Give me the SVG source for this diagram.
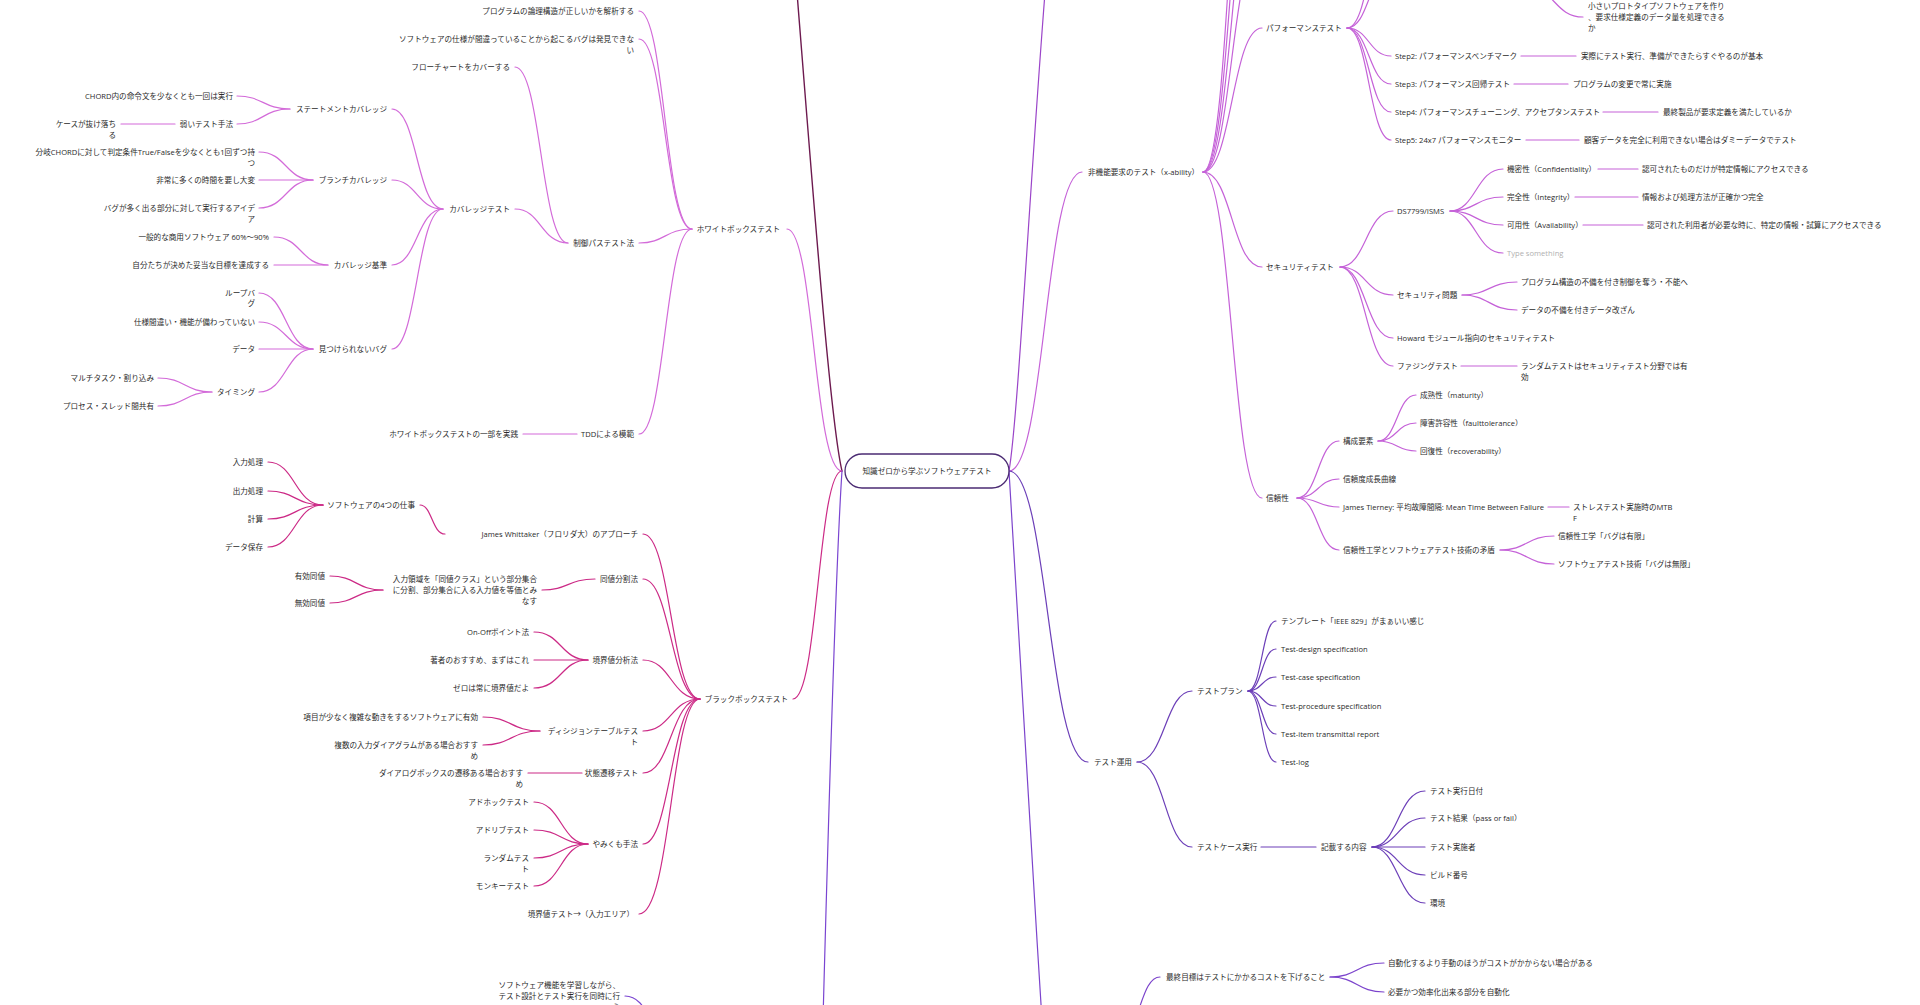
<svg xmlns="http://www.w3.org/2000/svg" width="1920" height="1005" viewBox="0 0 1920 1005">
<style>
text{font-family:"Open Sans","Noto Sans CJK JP","Noto Sans",sans-serif;font-size:7.6px;fill:#2a2a2a;dominant-baseline:central}
.e{text-anchor:end}
.m{text-anchor:middle}
.g{fill:#b0b0b0}
path{fill:none;stroke-width:1.2;stroke-linecap:round}
.wb{stroke:#d36bd9}.bb{stroke:#cc2a86}.dk{stroke:#6d1a4f;stroke-width:1.4}.vl{stroke:#7a45d1}
.nf{stroke:#c562d8}.rt{stroke:#9b45c9}.op{stroke:#6c3fb8}.vr{stroke:#7c44cc}
</style>
<rect width="1920" height="1005" fill="#fff"/>
<g id="connectors">
<!-- root left -->
<path class="dk" d="M842,471 C830,420 812,180 796,-20"/>
<path class="wb" d="M842,471 C814,471 814,229 787,229"/>
<path class="bb" d="M842,471 C818,471 818,699 793,699"/>
<path class="vl" d="M842,471 C836,560 830,760 823,1020"/>
<path class="vl" d="M625,996 C650,996 650,1040 676,1040"/>
<!-- white box -->
<path class="wb" d="M692,229 C665,229 665,11 639,11"/>
<path class="wb" d="M692,229 C665,229 665,39 639,39"/>
<path class="wb" d="M692,229 C665,229 665,243 639,243"/>
<path class="wb" d="M692,229 C665,229 665,434 639,434"/>
<path class="wb" d="M568,243 C541,243 541,67 515,67"/>
<path class="wb" d="M568,243 C541,243 541,209 515,209"/>
<path class="wb" d="M443,209 C417,209 417,109 392,109"/>
<path class="wb" d="M443,209 C417,209 417,180 392,180"/>
<path class="wb" d="M443,209 C417,209 417,265 392,265"/>
<path class="wb" d="M443,209 C417,209 417,349 392,349"/>
<path class="wb" d="M290,109 C263,109 263,96 237,96"/>
<path class="wb" d="M290,109 C263,109 263,124 237,124"/>
<path class="wb" d="M175,124 L121,124"/>
<path class="wb" d="M313,180 C286,180 286,152 259,152"/>
<path class="wb" d="M313,180 L259,180"/>
<path class="wb" d="M313,180 C286,180 286,208 259,208"/>
<path class="wb" d="M328,265 C301,265 301,237 274,237"/>
<path class="wb" d="M328,265 L274,265"/>
<path class="wb" d="M313,349 C286,349 286,293 259,293"/>
<path class="wb" d="M313,349 C286,349 286,322 259,322"/>
<path class="wb" d="M313,349 L259,349"/>
<path class="wb" d="M313,349 C286,349 286,392 259,392"/>
<path class="wb" d="M212,392 C185,392 185,378 158,378"/>
<path class="wb" d="M212,392 C185,392 185,406 158,406"/>
<path class="wb" d="M577,434 L523,434"/>
<!-- black box -->
<path class="bb" d="M700,699 C671,699 671,534 643,534"/>
<path class="bb" d="M700,699 C671,699 671,579 643,579"/>
<path class="bb" d="M700,699 C671,699 671,660 643,660"/>
<path class="bb" d="M700,699 C671,699 671,731 643,731"/>
<path class="bb" d="M700,699 C671,699 671,773 643,773"/>
<path class="bb" d="M700,699 C671,699 671,844 643,844"/>
<path class="bb" d="M700,699 C671,699 671,914 639,914"/>
<path class="bb" d="M445,534 C432,534 432,505 420,505"/>
<path class="bb" d="M323,505 C295,505 295,462 268,462"/>
<path class="bb" d="M323,505 C295,505 295,491 268,491"/>
<path class="bb" d="M323,505 C295,505 295,519 268,519"/>
<path class="bb" d="M323,505 C295,505 295,547 268,547"/>
<path class="bb" d="M595,579 C568,579 568,590 542,590"/>
<path class="bb" d="M383,590 C356,590 356,576 330,576"/>
<path class="bb" d="M383,590 C356,590 356,603 330,603"/>
<path class="bb" d="M588,660 C561,660 561,632 534,632"/>
<path class="bb" d="M588,660 L534,660"/>
<path class="bb" d="M588,660 C561,660 561,688 534,688"/>
<path class="bb" d="M540,731 C511,731 511,717 483,717"/>
<path class="bb" d="M540,731 C511,731 511,745 483,745"/>
<path class="bb" d="M582,773 L528,773"/>
<path class="bb" d="M588,844 C561,844 561,802 534,802"/>
<path class="bb" d="M588,844 C561,844 561,830 534,830"/>
<path class="bb" d="M588,844 C561,844 561,858 534,858"/>
<path class="bb" d="M588,844 C561,844 561,886 534,886"/>
<!-- root right -->
<path class="rt" d="M1009,471 C1018,420 1030,180 1046,-20"/>
<path class="nf" d="M1009,471 C1045,471 1045,172 1082,172"/>
<path class="op" d="M1009,471 C1048,471 1048,762 1088,762"/>
<path class="vr" d="M1009,471 C1015,560 1028,800 1042,1020"/>
<!-- non-functional -->
<path class="nf" d="M1203,172 C1232,172 1232,-60 1262,-60"/>
<path class="nf" d="M1203,172 C1232,172 1232,-140 1262,-140"/>
<path class="nf" d="M1203,172 C1232,172 1232,-230 1262,-230"/>
<path class="nf" d="M1203,172 C1232,172 1232,-330 1262,-330"/>
<path class="nf" d="M1203,172 C1232,172 1232,28 1262,28"/>
<path class="nf" d="M1203,172 C1232,172 1232,267 1262,267"/>
<path class="nf" d="M1203,172 C1232,172 1232,498 1262,498"/>
<path class="nf" d="M1347,28 C1369,28 1369,-30 1391,-30"/>
<path class="nf" d="M1347,28 C1369,28 1369,-75 1391,-75"/>
<path class="nf" d="M1347,28 C1369,28 1369,56 1391,56"/>
<path class="nf" d="M1347,28 C1369,28 1369,84 1391,84"/>
<path class="nf" d="M1347,28 C1369,28 1369,112 1391,112"/>
<path class="nf" d="M1347,28 C1369,28 1369,140 1391,140"/>
<path class="nf" d="M1525,-14 C1554,-14 1554,17 1583,17"/>
<path class="nf" d="M1521,56 L1576,56"/>
<path class="nf" d="M1514,84 L1568,84"/>
<path class="nf" d="M1603,112 L1658,112"/>
<path class="nf" d="M1526,140 L1579,140"/>
<path class="nf" d="M1340,267 C1366,267 1366,211 1393,211"/>
<path class="nf" d="M1340,267 C1366,267 1366,295 1393,295"/>
<path class="nf" d="M1340,267 C1366,267 1366,338 1393,338"/>
<path class="nf" d="M1340,267 C1366,267 1366,366 1393,366"/>
<path class="nf" d="M1450,211 C1476,211 1476,169 1503,169"/>
<path class="nf" d="M1450,211 C1476,211 1476,197 1503,197"/>
<path class="nf" d="M1450,211 C1476,211 1476,225 1503,225"/>
<path class="nf" d="M1450,211 C1476,211 1476,253 1503,253"/>
<path class="nf" d="M1598,169 L1638,169"/>
<path class="nf" d="M1575,197 L1638,197"/>
<path class="nf" d="M1583,225 L1643,225"/>
<path class="nf" d="M1462,295 C1489,295 1489,282 1517,282"/>
<path class="nf" d="M1462,295 C1489,295 1489,310 1517,310"/>
<path class="nf" d="M1461,366 L1517,366"/>
<path class="nf" d="M1297,498 C1318,498 1318,441 1339,441"/>
<path class="nf" d="M1297,498 C1318,498 1318,479 1339,479"/>
<path class="nf" d="M1297,498 C1318,498 1318,507 1339,507"/>
<path class="nf" d="M1297,498 C1318,498 1318,550 1339,550"/>
<path class="nf" d="M1378,441 C1397,441 1397,395 1416,395"/>
<path class="nf" d="M1378,441 C1397,441 1397,423 1416,423"/>
<path class="nf" d="M1378,441 C1397,441 1397,451 1416,451"/>
<path class="nf" d="M1548,507 L1569,507"/>
<path class="nf" d="M1500,550 C1527,550 1527,536 1554,536"/>
<path class="nf" d="M1500,550 C1527,550 1527,564 1554,564"/>
<!-- test operation -->
<path class="op" d="M1137,762 C1165,762 1165,691 1192,691"/>
<path class="op" d="M1137,762 C1165,762 1165,847 1192,847"/>
<path class="op" d="M1248,691 C1262,691 1262,621 1276,621"/>
<path class="op" d="M1248,691 C1262,691 1262,649 1276,649"/>
<path class="op" d="M1248,691 C1262,691 1262,677 1276,677"/>
<path class="op" d="M1248,691 C1262,691 1262,706 1276,706"/>
<path class="op" d="M1248,691 C1262,691 1262,734 1276,734"/>
<path class="op" d="M1248,691 C1262,691 1262,762 1276,762"/>
<path class="op" d="M1261,847 L1316,847"/>
<path class="op" d="M1372,847 C1398,847 1398,791 1425,791"/>
<path class="op" d="M1372,847 C1398,847 1398,818 1425,818"/>
<path class="op" d="M1372,847 L1425,847"/>
<path class="op" d="M1372,847 C1398,847 1398,875 1425,875"/>
<path class="op" d="M1372,847 C1398,847 1398,903 1425,903"/>
<!-- bottom right -->
<path class="vr" d="M1160,977 C1140,977 1140,1035 1120,1035"/>
<path class="vr" d="M1330,977 C1357,977 1357,963 1384,963"/>
<path class="vr" d="M1330,977 C1357,977 1357,992 1384,992"/>
</g>
<g id="root">
<rect x="845" y="454" width="164" height="34" rx="17" fill="#fff" stroke="#4b2b73" stroke-width="1.3"/>
<text class="m" x="927" y="471">知識ゼロから学ぶソフトウェアテスト</text>
</g>
<g id="whitebox">
<text class="e" x="780" y="229">ホワイトボックステスト</text>
<text id="wb-logic" class="e" x="634" y="11">プログラムの論理構造が正しいかを解析する</text>
<text id="wb-spec" class="e" x="634" y="39">ソフトウェアの仕様が間違っていることから起こるバグは発見できな<tspan x="634" y="50">い</tspan></text>
<text id="wb-ctrl" class="e" x="634" y="243">制御パステスト法</text>
<text id="wb-flow" class="e" x="510" y="67">フローチャートをカバーする</text>
<text id="wb-cov" class="e" x="510" y="209">カバレッジテスト</text>
<text id="cov-stmt" class="e" x="387" y="109">ステートメントカバレッジ</text>
<text class="e" x="233" y="96">CHORD内の命令文を少なくとも一回は実行</text>
<text class="e" x="233" y="124">弱いテスト手法</text>
<text class="e" x="116" y="124">ケースが抜け落ち<tspan x="116" y="135">る</tspan></text>
<text id="cov-branch" class="e" x="387" y="180">ブランチカバレッジ</text>
<text class="e" x="255" y="152">分岐CHORDに対して判定条件True/Falseを少なくとも1回ずつ持<tspan x="255" y="163">つ</tspan></text>
<text class="e" x="255" y="180">非常に多くの時間を要し大変</text>
<text class="e" x="255" y="208">バグが多く出る部分に対して実行するアイデ<tspan x="255" y="219">ア</tspan></text>
<text id="cov-crit" class="e" x="387" y="265">カバレッジ基準</text>
<text class="e" x="269" y="237">一般的な商用ソフトウェア 60%〜90%</text>
<text class="e" x="269" y="265">自分たちが決めた妥当な目標を達成する</text>
<text id="cov-bugs" class="e" x="387" y="349">見つけられないバグ</text>
<text class="e" x="255" y="293">ループバ<tspan x="255" y="303">グ</tspan></text>
<text class="e" x="255" y="322">仕様間違い・機能が備わっていない</text>
<text class="e" x="255" y="349">データ</text>
<text class="e" x="255" y="392">タイミング</text>
<text class="e" x="154" y="378">マルチタスク・割り込み</text>
<text class="e" x="154" y="406">プロセス・スレッド間共有</text>
<text id="wb-tdd" class="e" x="634" y="434">TDDによる模範</text>
<text class="e" x="518" y="434">ホワイトボックステストの一部を実践</text>
</g>
<g id="blackbox">
<text class="e" x="788" y="699">ブラックボックステスト</text>
<text id="bb-jw" class="e" x="638" y="534">James Whittaker（フロリダ大）のアプローチ</text>
<text class="e" x="415" y="505">ソフトウェアの4つの仕事</text>
<text class="e" x="263" y="462">入力処理</text>
<text class="e" x="263" y="491">出力処理</text>
<text class="e" x="263" y="519">計算</text>
<text class="e" x="263" y="547">データ保存</text>
<text id="bb-eq" class="e" x="638" y="579">同値分割法</text>
<text class="e" x="537" y="579">入力領域を「同値クラス」という部分集合<tspan x="537" y="590">に分割、部分集合に入る入力値を等価とみ</tspan><tspan x="537" y="601">なす</tspan></text>
<text class="e" x="325" y="576">有効同値</text>
<text class="e" x="325" y="603">無効同値</text>
<text id="bb-bva" class="e" x="638" y="660">境界値分析法</text>
<text class="e" x="529" y="632">On-Offポイント法</text>
<text class="e" x="529" y="660">著者のおすすめ、まずはこれ</text>
<text class="e" x="529" y="688">ゼロは常に境界値だよ</text>
<text id="bb-dt" class="e" x="638" y="731">ディシジョンテーブルテス<tspan x="638" y="742">ト</tspan></text>
<text class="e" x="478" y="717">項目が少なく複雑な動きをするソフトウェアに有効</text>
<text class="e" x="478" y="745">複数の入力ダイアグラムがある場合おすす<tspan x="478" y="756">め</tspan></text>
<text id="bb-st" class="e" x="638" y="773">状態遷移テスト</text>
<text class="e" x="523" y="773">ダイアログボックスの遷移ある場合おすす<tspan x="523" y="784">め</tspan></text>
<text id="bb-ad" class="e" x="638" y="844">やみくも手法</text>
<text class="e" x="529" y="802">アドホックテスト</text>
<text class="e" x="529" y="830">アドリブテスト</text>
<text class="e" x="529" y="858">ランダムテス<tspan x="529" y="869">ト</tspan></text>
<text class="e" x="529" y="886">モンキーテスト</text>
<text id="bb-bvt" class="e" x="634" y="914">境界値テスト→（入力エリア）</text>
</g>
<g id="explore">
<text class="e" x="620" y="985">ソフトウェア機能を学習しながら、<tspan x="620" y="996">テスト設計とテスト実行を同時に行</tspan><tspan x="620" y="1007">う</tspan></text>
</g>
<g id="nonfunc">
<text x="1088" y="172">非機能要求のテスト（x-ability）</text>
<text id="perf" x="1266" y="28">パフォーマンステスト</text>
<text x="1588" y="6">小さいプロトタイプソフトウェアを作り<tspan x="1588" y="17">、要求仕様定義のデータ量を処理できる</tspan><tspan x="1588" y="28">か</tspan></text>
<text x="1395" y="56">Step2: パフォーマンスベンチマーク</text>
<text x="1581" y="56">実際にテスト実行、準備ができたらすぐやるのが基本</text>
<text x="1395" y="84">Step3: パフォーマンス回帰テスト</text>
<text x="1573" y="84">プログラムの変更で常に実施</text>
<text x="1395" y="112">Step4: パフォーマンスチューニング、アクセプタンステスト</text>
<text x="1663" y="112">最終製品が要求定義を満たしているか</text>
<text x="1395" y="140">Step5: 24x7 パフォーマンスモニター</text>
<text x="1584" y="140">顧客データを完全に利用できない場合はダミーデータでテスト</text>
<text id="sec" x="1266" y="267">セキュリティテスト</text>
<text x="1397" y="211">DS7799/ISMS</text>
<text x="1507" y="169">機密性（Confidentiality）</text>
<text x="1642" y="169">認可されたものだけが特定情報にアクセスできる</text>
<text x="1507" y="197">完全性（Integrity）</text>
<text x="1642" y="197">情報および処理方法が正確かつ完全</text>
<text x="1507" y="225">可用性（Availability）</text>
<text x="1647" y="225">認可された利用者が必要な時に、特定の情報・試算にアクセスできる</text>
<text class="g" x="1507" y="253">Type something</text>
<text x="1397" y="295">セキュリティ問題</text>
<text x="1521" y="282">プログラム構造の不備を付き制御を奪う・不能へ</text>
<text x="1521" y="310">データの不備を付きデータ改ざん</text>
<text x="1397" y="338">Howard モジュール指向のセキュリティテスト</text>
<text x="1397" y="366">ファジングテスト</text>
<text x="1521" y="366">ランダムテストはセキュリティテスト分野では有<tspan x="1521" y="377">効</tspan></text>
<text id="rel" x="1266" y="498">信頼性</text>
<text x="1343" y="441">構成要素</text>
<text x="1420" y="395">成熟性（maturity）</text>
<text x="1420" y="423">障害許容性（faulttolerance）</text>
<text x="1420" y="451">回復性（recoverability）</text>
<text x="1343" y="479">信頼度成長曲線</text>
<text x="1343" y="507">James Tierney: 平均故障間隔: Mean Time Between Failure</text>
<text x="1573" y="507">ストレステスト実施時のMTB<tspan x="1573" y="518">F</tspan></text>
<text x="1343" y="550">信頼性工学とソフトウェアテスト技術の矛盾</text>
<text x="1558" y="536">信頼性工学「バグは有限」</text>
<text x="1558" y="564">ソフトウェアテスト技術「バグは無限」</text>
</g>
<g id="operation">
<text x="1094" y="762">テスト運用</text>
<text x="1197" y="691">テストプラン</text>
<text x="1281" y="621">テンプレート「IEEE 829」がまぁいい感じ</text>
<text x="1281" y="649">Test-design specification</text>
<text x="1281" y="677">Test-case specification</text>
<text x="1281" y="706">Test-procedure specification</text>
<text x="1281" y="734">Test-item transmittal report</text>
<text x="1281" y="762">Test-log</text>
<text x="1197" y="847">テストケース実行</text>
<text x="1321" y="847">記載する内容</text>
<text x="1430" y="791">テスト実行日付</text>
<text x="1430" y="818">テスト結果（pass or fail）</text>
<text x="1430" y="847">テスト実施者</text>
<text x="1430" y="875">ビルド番号</text>
<text x="1430" y="903">環境</text>
</g>
<g id="automation">
<text x="1166" y="977">最終目標はテストにかかるコストを下げること</text>
<text x="1388" y="963">自動化するより手動のほうがコストがかからない場合がある</text>
<text x="1388" y="992">必要かつ効率化出来る部分を自動化</text>
</g>
</svg>
